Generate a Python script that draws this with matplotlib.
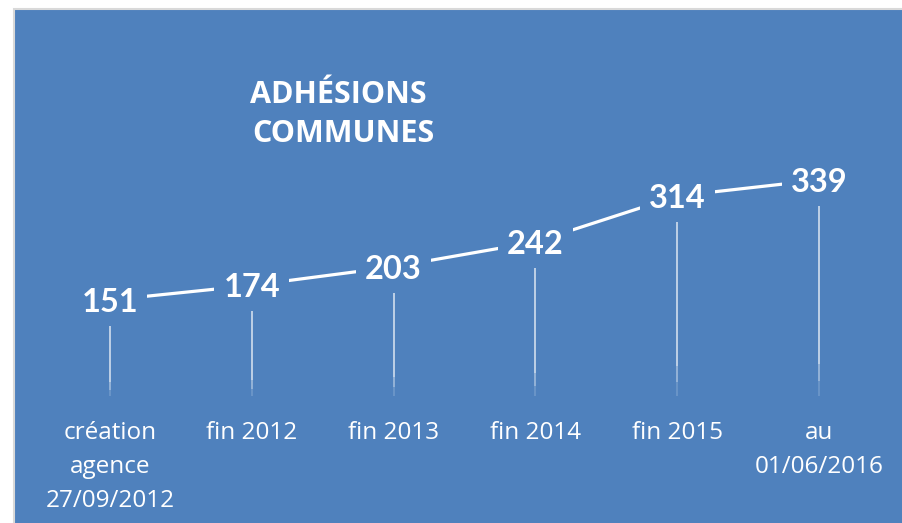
import matplotlib
matplotlib.use("Agg")
import matplotlib.pyplot as plt
from matplotlib.patches import Rectangle

categories = ["création\nagence\n27/09/2012", "fin 2012", "fin 2013", "fin 2014", "fin 2015", "au\n01/06/2016"]
values = [151, 174, 203, 242, 314, 339]
title_lines = ["ADHÉSIONS", "COMMUNES"]

BLUE = "#4F81BD"
W, H = 903, 523
fig = plt.figure(figsize=(W / 100, H / 100), dpi=100, facecolor="white")

# blue chart area with thin grey border on top/left
bg = Rectangle((14 / W, -0.05), 1.1, 1.05 - 9 / H, transform=fig.transFigure,
               facecolor=BLUE, edgecolor="#D9D9D9", linewidth=1.5, zorder=0)
fig.patches.append(bg)

ax = fig.add_axes([39.1 / W, (H - 396.4) / H, 850.8 / W, (396.4 - 9.6) / H])
ax.set_zorder(2)
ax.set_xlim(-0.5, 5.5)
ax.set_ylim(0, 606)
ax.axis("off")
ax.patch.set_alpha(0)

x = list(range(len(values)))

# drop lines (fading toward the bottom)
for xi, v in zip(x, values):
    ax.vlines(xi, v * 0.15, v, color="white", alpha=0.8, lw=1.1, zorder=1)
    ax.vlines(xi, v * 0.07, v * 0.15, color="white", alpha=0.5, lw=1.1, zorder=1)
    ax.vlines(xi, 0, v * 0.07, color="white", alpha=0.2, lw=1.1, zorder=1)

ax.plot(x, values, color="white", lw=2.3, solid_capstyle="butt", zorder=2)

for xi, v in zip(x, values):
    ax.annotate(str(v), (xi, v), xytext=(0, -8.6), textcoords="offset points",
                ha="center", va="baseline", color="white", fontsize=23.5,
                fontweight="bold", family="Lato", zorder=3,
                bbox=dict(boxstyle="square,pad=0.28", facecolor=BLUE, edgecolor="none"))

# category labels
for xi, c in zip(x, categories):
    ax.annotate(c, (xi, 0), xytext=(0, -18), textcoords="offset points",
                ha="center", va="top", color="white", fontsize=17.5,
                family="Open Sans", linespacing=1.55, multialignment="center",
                annotation_clip=False)

# title
fig.text(338 / W, 1 - 103 / H, title_lines[0], ha="center", va="baseline",
         color="white", fontsize=22, fontweight="bold", family="Open Sans", zorder=3)
fig.text(343 / W, 1 - 142 / H, title_lines[1], ha="center", va="baseline",
         color="white", fontsize=22, fontweight="bold", family="Open Sans", zorder=3)

fig.savefig("out.png", dpi=100, facecolor="white")
